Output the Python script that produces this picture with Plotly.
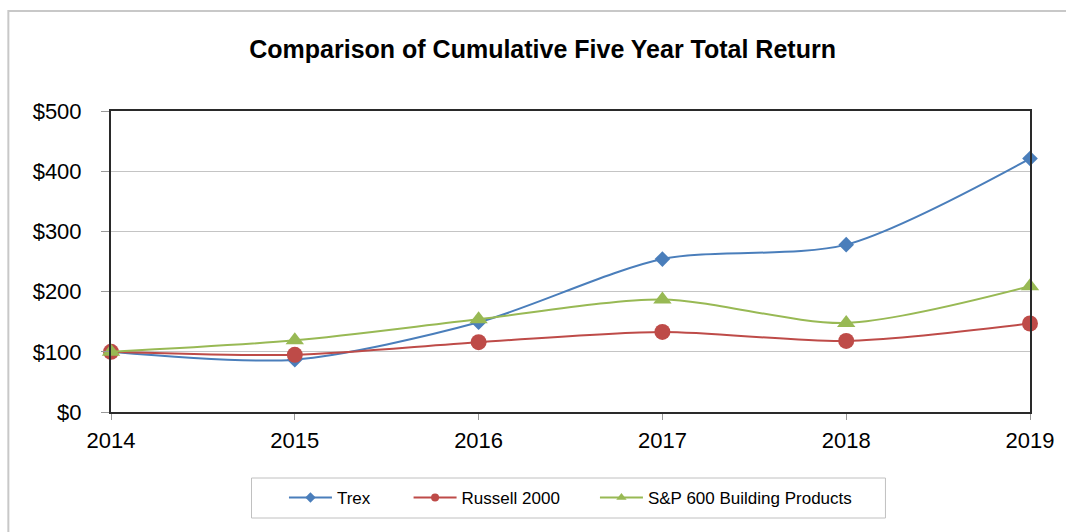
import plotly.graph_objects as go

years = [2014, 2015, 2016, 2017, 2018, 2019]
trex = [100, 87, 149, 254, 278, 421]
russell = [100, 95, 116, 133, 118, 147]
sp600 = [100, 119, 154, 187, 148, 209]
y_ticks = [0, 100, 200, 300, 400, 500]
y_tick_labels = ["$0", "$100", "$200", "$300", "$400", "$500"]

fig = go.Figure()
series = [
    ("Trex", trex, "#4a7ebb", "diamond", 12, "legend", 8),
    ("Russell 2000", russell, "#be4b48", "circle", 16, "legend2", 8),
    ("S&P 600 Building Products", sp600, "#98b954", "triangle-up", 16, "legend3", 9),
]
for name, vals, color, sym, size, leg, lsize in series:
    fig.add_trace(go.Scatter(
        x=years, y=vals, name=name, mode="lines+markers", showlegend=False,
        line=dict(color=color, width=2, shape="spline", smoothing=0.8),
        marker=dict(symbol=sym, size=size, color=color),
        cliponaxis=False,
    ))
    # legend entry (small markers like the reference)
    fig.add_trace(go.Scatter(
        x=[None], y=[None], name=name, mode="lines+markers", legend=leg,
        line=dict(color=color, width=2),
        marker=dict(symbol=sym, size=lsize, color=color),
    ))

leg_common = dict(orientation="h", xanchor="left", y=-0.2857, yanchor="middle",
                  borderwidth=0, bgcolor="rgba(0,0,0,0)",
                  font=dict(size=17, color="black"), itemwidth=43)

fig.update_layout(
    width=1066, height=532,
    margin=dict(l=111, r=33, t=111, b=120),
    paper_bgcolor="white", plot_bgcolor="white",
    font=dict(family="Liberation Sans, Arial, sans-serif", color="black"),
    title=dict(text="<b>Comparison of Cumulative Five Year Total Return</b>",
               xref="container", x=0.509, xanchor="center",
               yref="container", y=0.908, yanchor="middle",
               font=dict(size=25, color="black")),
    showlegend=True,
    legend=dict(x=0.1882, **leg_common),
    legend2=dict(x=0.3238, **leg_common),
    legend3=dict(x=0.5266, **leg_common),
    xaxis=dict(range=[2014, 2019], tickvals=years, ticktext=[str(y) for y in years],
               showgrid=False, zeroline=False, showline=True, linecolor="#2a2a2a",
               linewidth=2, mirror=True, ticks="outside", ticklen=6, tickcolor="#999",
               ticklabelstandoff=2, tickfont=dict(size=22)),
    yaxis=dict(range=[0, 500], tickvals=y_ticks, ticktext=y_tick_labels,
               showgrid=True, gridcolor="#c4c4c4", gridwidth=1, zeroline=False,
               showline=True, linecolor="#2a2a2a", linewidth=2, mirror=True,
               ticks="outside", ticklen=8, tickcolor="#999",
               ticklabelstandoff=15, tickfont=dict(size=22)),
    shapes=[
        dict(type="rect", xref="paper", yref="paper", x0=-0.1117, x1=1.2, y0=-0.6, y1=1.332,
             line=dict(color="#c8c8c8", width=2), layer="below"),
        dict(type="rect", xref="paper", yref="paper", x0=0.1529, x1=0.8427, y0=-0.3522, y1=-0.2193,
             line=dict(color="#c0c0c0", width=1), layer="below"),
    ],
)
fig.write_html("out.html", config={"displayModeBar": False},
               post_script="document.body.style.margin='0';document.body.style.overflow='hidden';")
